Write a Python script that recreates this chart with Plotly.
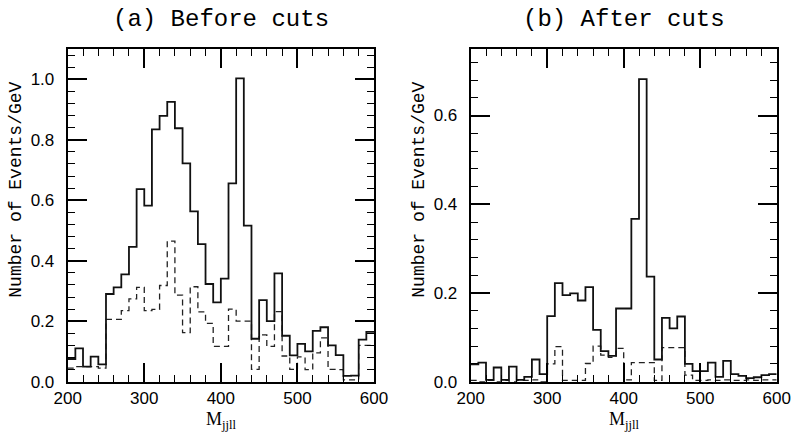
import plotly.graph_objects as go

# Bin lower edges (GeV), 10 GeV bins from 200 to 600
bin_edges = [200 + 10 * i for i in range(41)]

# (a) Before cuts
before_solid = [0.075, 0.11, 0.05, 0.083, 0.057, 0.29, 0.312, 0.355, 0.446, 0.637,
                0.582, 0.834, 0.879, 0.925, 0.838, 0.722, 0.563, 0.455, 0.323, 0.262,
                0.341, 0.656, 1.003, 0.516, 0.142, 0.27, 0.2, 0.358, 0.152, 0.087,
                0.125, 0.1, 0.168, 0.18, 0.12, 0.088, 0.019, 0.02, 0.139, 0.165]
before_dashed = [0.045, 0.05, 0.05, 0.05, 0.045, 0.206, 0.206, 0.235, 0.274, 0.312,
                 0.235, 0.239, 0.318, 0.465, 0.286, 0.162, 0.314, 0.231, 0.193, 0.117,
                 0.117, 0.24, 0.2, 0.2, 0.041, 0.155, 0.117, 0.232, 0.085, 0.041,
                 0.082, 0.04, 0.095, 0.145, 0.041, 0.04, 0.006, 0.006, 0.12, 0.12]

# (b) After cuts
after_solid = [0.039, 0.043, 0.004, 0.032, 0.004, 0.034, 0.004, 0.011, 0.05, 0.017,
               0.148, 0.222, 0.195, 0.199, 0.183, 0.213, 0.117, 0.069, 0.058, 0.165,
               0.165, 0.367, 0.682, 0.237, 0.05, 0.144, 0.12, 0.147, 0.04, 0.024,
               0.024, 0.043, 0.011, 0.047, 0.017, 0.013, 0.008, 0.01, 0.015, 0.017]
after_dashed = [0.003, 0.0, 0.003, 0.0, 0.003, 0.0, 0.003, 0.003, 0.004, 0.0,
                0.04, 0.079, 0.003, 0.003, 0.003, 0.041, 0.08, 0.06, 0.055, 0.075,
                0.004, 0.043, 0.043, 0.043, 0.003, 0.077, 0.077, 0.077, 0.015, 0.003,
                0.003, 0.004, 0.003, 0.004, 0.003, 0.003, 0.004, 0.003, 0.004, 0.004]

titles = ["(a) Before cuts", "(b) After cuts"]
y_label = "Number of Events/GeV"
x_label = "M<sub>jjll</sub>"
x_ticks = [200, 300, 400, 500, 600]

W, H = 794, 436


def step(vals):
    return bin_edges, list(vals) + [vals[-1]]


fig = go.Figure()
panels = [(before_solid, before_dashed, "x", "y"), (after_solid, after_dashed, "x2", "y2")]
for solid, dashed, xa, ya in panels:
    xs, ys = step(dashed)
    fig.add_trace(go.Scatter(x=xs, y=ys, mode="lines", line_shape="hv",
                             line=dict(color="#222", width=1.3, dash="6px,4px"),
                             xaxis=xa, yaxis=ya, showlegend=False))
    xs, ys = step(solid)
    fig.add_trace(go.Scatter(x=xs, y=ys, mode="lines", line_shape="hv",
                             line=dict(color="#111", width=1.8),
                             xaxis=xa, yaxis=ya, showlegend=False))

# plot areas in pixels
left_px = (67.7, 374.0)
right_px = (470.7, 776.7)
top_px, bot_px = 49.0, 381.7
ydom = [1 - bot_px / H, 1 - top_px / H]

tickfont = dict(family="Liberation Sans", size=17, color="black")
common_x = dict(range=[200, 600], tickvals=x_ticks, ticks="inside", ticklen=19,
                tickwidth=1.5, tickcolor="black", showline=True, linecolor="black",
                linewidth=2, mirror="allticks", showgrid=False, zeroline=False,
                tickfont=tickfont, ticklabelstandoff=0, automargin=False,
                minor=dict(ticks="inside", ticklen=7, tickwidth=1.2, tickcolor="black",
                           dtick=20, tick0=200, showgrid=False))
common_y = dict(ticks="inside", ticklen=19, tickwidth=1.5, tickcolor="black",
                showline=True, linecolor="black", linewidth=2, mirror="allticks",
                showgrid=False, zeroline=False, tickfont=tickfont, tickformat=".1f",
                dtick=0.2, tick0=0, ticklabelstandoff=8, automargin=False,
                minor=dict(ticks="inside", ticklen=7, tickwidth=1.2, tickcolor="black",
                           dtick=0.04, tick0=0, showgrid=False))

fig.update_layout(
    width=W, height=H, margin=dict(l=0, r=0, t=0, b=0, pad=0, autoexpand=False),
    paper_bgcolor="white", plot_bgcolor="white", showlegend=False,
    xaxis=dict(domain=[left_px[0] / W, left_px[1] / W], anchor="y", **common_x),
    yaxis=dict(domain=ydom, anchor="x", range=[0, 1.1], **common_y),
    xaxis2=dict(domain=[right_px[0] / W, right_px[1] / W], anchor="y2", **common_x),
    yaxis2=dict(domain=ydom, anchor="x2", range=[0, 0.75], **common_y),
)

title_font = dict(family="Liberation Mono", size=24, color="black")
label_font = dict(family="Liberation Mono", size=18, color="black")
xlab_font = dict(family="Liberation Serif", size=18, color="black")
for i, (l, r) in enumerate([left_px, right_px]):
    cx = (l + r) / 2
    fig.add_annotation(text=titles[i], x=cx / W, y=1 - 19 / H, xref="paper", yref="paper",
                       xanchor="center", yanchor="middle", showarrow=False, font=title_font)
    fig.add_annotation(text=x_label, x=(cx + 1) / W, y=1 - 420 / H, xref="paper", yref="paper",
                       xanchor="center", yanchor="middle", showarrow=False, font=xlab_font)
    fig.add_annotation(text=y_label, x=(l - 52) / W, y=1 - 190 / H, xref="paper", yref="paper",
                       xanchor="center", yanchor="middle", textangle=-90, showarrow=False,
                       font=label_font)

fig.write_html("out.html", config={"displayModeBar": False},
               post_script="document.body.style.margin='0';document.body.style.padding='0';")
